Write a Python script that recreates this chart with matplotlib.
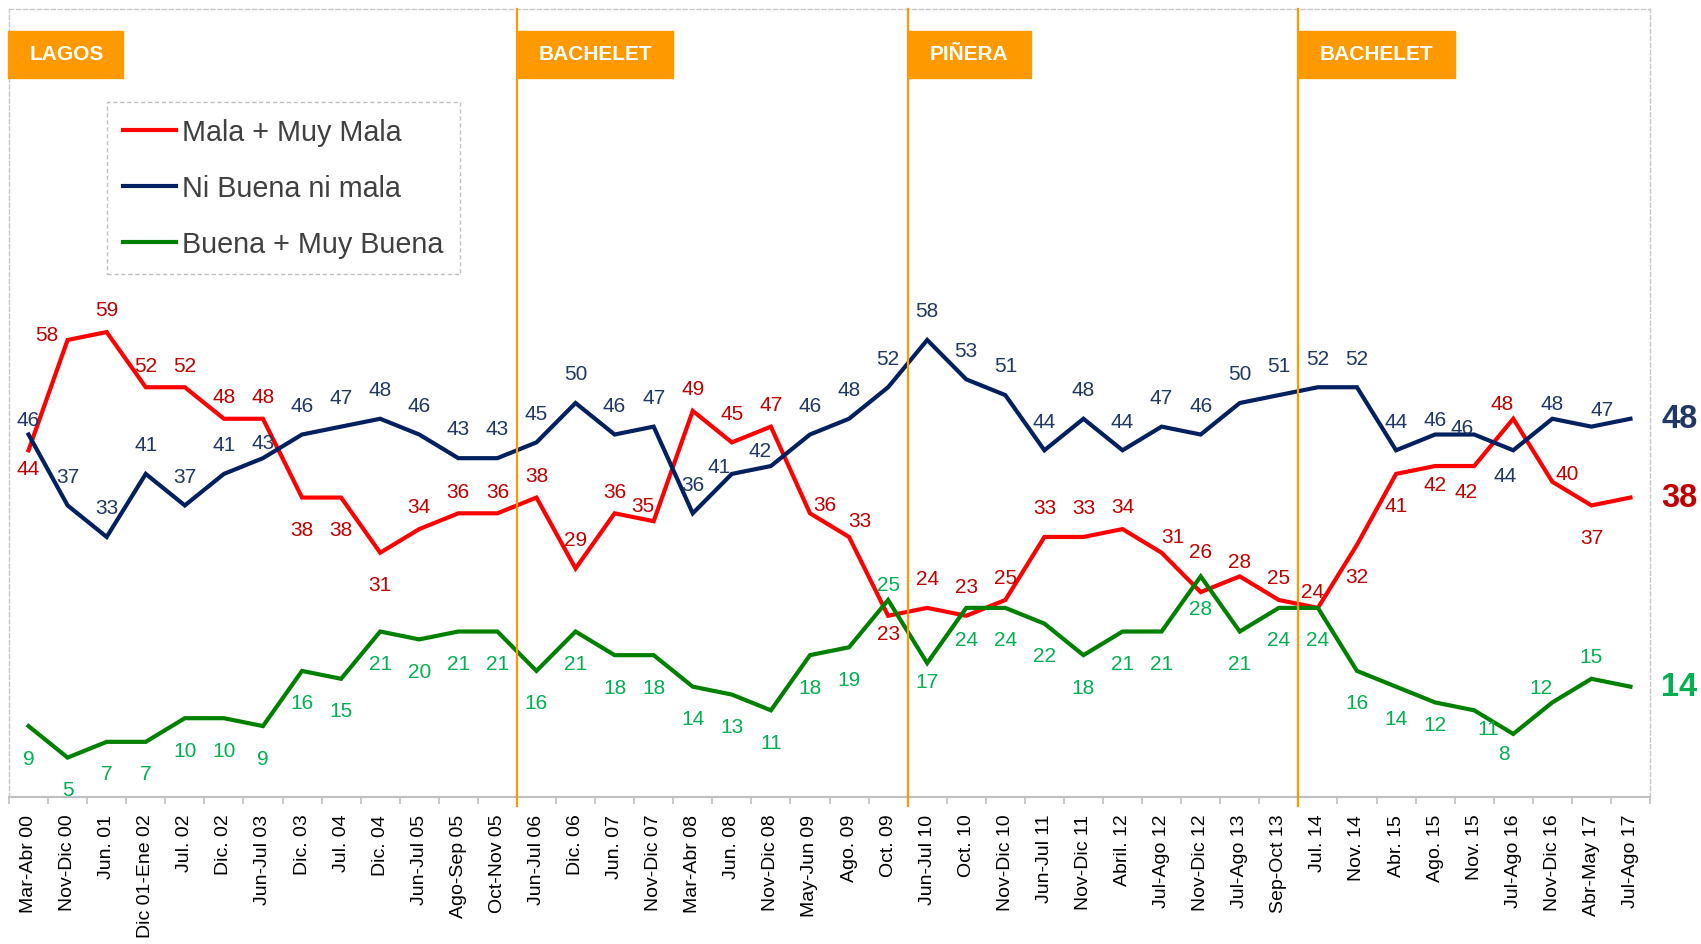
import matplotlib
matplotlib.use("Agg")
import matplotlib.pyplot as plt
from matplotlib.lines import Line2D
from matplotlib.patches import Rectangle
from matplotlib.transforms import blended_transform_factory

plt.rcParams['font.family'] = ['Liberation Sans', 'DejaVu Sans']

periods = ['Mar-Abr 00', 'Nov-Dic 00', 'Jun. 01', 'Dic 01-Ene 02', 'Jul. 02', 'Dic. 02',
           'Jun-Jul 03', 'Dic. 03', 'Jul. 04', 'Dic. 04', 'Jun-Jul 05', 'Ago-Sep 05',
           'Oct-Nov 05', 'Jun-Jul 06', 'Dic. 06', 'Jun. 07', 'Nov-Dic 07', 'Mar-Abr 08',
           'Jun. 08', 'Nov-Dic 08', 'May-Jun 09', 'Ago. 09', 'Oct. 09', 'Jun-Jul 10',
           'Oct. 10', 'Nov-Dic 10', 'Jun-Jul 11', 'Nov-Dic 11', 'Abril. 12', 'Jul-Ago 12',
           'Nov-Dic 12', 'Jul-Ago 13', 'Sep-Oct 13', 'Jul. 14', 'Nov. 14', 'Abr. 15',
           'Ago. 15', 'Nov. 15', 'Jul-Ago 16', 'Nov-Dic 16', 'Abr-May 17', 'Jul-Ago 17']

mala = [44, 58, 59, 52, 52, 48, 48, 38, 38, 31, 34, 36, 36, 38, 29, 36, 35, 49, 45, 47, 36,
        33, 23, 24, 23, 25, 33, 33, 34, 31, 26, 28, 25, 24, 32, 41, 42, 42, 48, 40, 37, 38]
ni = [46, 37, 33, 41, 37, 41, 43, 46, 47, 48, 46, 43, 43, 45, 50, 46, 47, 36, 41, 42, 46,
      48, 52, 58, 53, 51, 44, 48, 44, 47, 46, 50, 51, 52, 52, 44, 46, 46, 44, 48, 47, 48]
buena = [9, 5, 7, 7, 10, 10, 9, 16, 15, 21, 20, 21, 21, 16, 21, 18, 18, 14, 13, 11, 18,
         19, 25, 17, 24, 24, 22, 18, 21, 21, 28, 21, 24, 24, 16, 14, 12, 11, 8, 12, 15, 14]

series_names = ['Mala + Muy Mala', 'Ni Buena ni mala', 'Buena + Muy Buena']

governments = ['LAGOS', 'BACHELET', 'PIÑERA', 'BACHELET']
gov_start = [0, 13, 23, 33]

# where each data label sits relative to its point (None = no small label)
pos_mala = ['B', 'l', 'a', 'a', 'a', 'a', 'a', 'b', 'b', 'b', 'a', 'a', 'a', 'a', 'h', 'a',
            'al', 'a', 'h', 'a', 'r', 'ar', 'B', 'h', 'h', 'a', 'h', 'h', 'a', 'ar', 'H',
            'A', 'a', 'ul', 'b', 'b', 'B', 'bl', 'al', 'r', 'b', None]
pos_ni = (['A'] + ['h'] * 5 + ['A'] + ['h'] * 11 + ['L', 'al'] + ['h'] * 16
          + ['A', 'L', 'bl', 'A', 'ar', None])
pos_buena = (['b'] * 22 + ['A', 'B'] + ['b'] * 12
             + ['m', 'br', 'dl', 'al', 'a', None])

OFFSETS = {'A': (0, 11), 'a': (0, 16), 'h': (0, 21), 'H': (0, 29),
           'b': (0, -23), 'm': (0, -16), 'B': (0, -13),
           'l': (-15, 4), 'L': (-9, 5), 'r': (11, 6),
           'al': (-8, 11), 'ul': (-4, 12), 'ar': (8, 12),
           'bl': (-6, -18), 'br': (10, -13), 'dl': (-7, -14)}

RED, NAVY, GREEN = '#FF0000', '#002060', '#008000'
RED_T, NAVY_T, GREEN_T = '#C00000', '#1F3864', '#00B050'
ORANGE = '#FF9900'

fig = plt.figure(figsize=(17.01, 9.45), dpi=100)
ax = fig.add_axes([9 / 1701, 147 / 945, 1641 / 1701, 788 / 945])

x = list(range(len(periods)))
ax.plot(x, mala, color=RED, lw=3, zorder=3, solid_joinstyle='miter')
ax.plot(x, ni, color=NAVY, lw=3, zorder=3, solid_joinstyle='miter')
ax.plot(x, buena, color=GREEN, lw=3, zorder=3, solid_joinstyle='miter')

ax.set_xlim(-0.5, len(periods) - 0.5)
ax.set_ylim(0, 100)

for vals, codes, col in [(mala, pos_mala, RED_T), (ni, pos_ni, NAVY_T),
                         (buena, pos_buena, GREEN_T)]:
    for i, (v, c) in enumerate(zip(vals, codes)):
        if c is None:
            continue
        ax.annotate(str(v), (i, v), xytext=OFFSETS[c], textcoords='offset points',
                    ha='center', va='center', fontsize=15, color=col, zorder=5)

# final values, large
for vals, col in [(ni, NAVY_T), (mala, RED_T), (buena, GREEN_T)]:
    ax.annotate(str(vals[-1]), (len(vals) - 1, vals[-1]), xytext=(22, 0),
                textcoords='offset points', ha='left', va='center', fontsize=23.5,
                fontweight='bold', color=col, annotation_clip=False)

# government periods
trans = blended_transform_factory(ax.transData, ax.transAxes)
box_w = [2.96, 4.0, 3.15, 4.0]
for name, s, w in zip(governments, gov_start, box_w):
    x0 = s - 0.5
    if s > 0:
        ax.axvline(x0, ymin=-0.012, ymax=1, color=ORANGE, lw=1.6, zorder=4, clip_on=False)
    ax.add_patch(Rectangle((x0 - (0.03 if s == 0 else 0), 0.913), w, 0.0595,
                           transform=trans, color=ORANGE, zorder=4, clip_on=False))
    ax.text(x0 + w / 2, 0.943, name, transform=trans, ha='center', va='center',
            fontsize=15, fontweight='bold', color='white', zorder=5)

# axes styling
ax.set_xticks(x)
ax.set_xticklabels(periods, rotation=90, fontsize=14, color='black')
ax.set_xticks([i - 0.5 for i in range(len(periods) + 1)], minor=True)
ax.tick_params(axis='x', which='major', length=0, pad=12)
ax.tick_params(axis='x', which='minor', length=5, color='#BFBFBF', width=1.2)
ax.set_yticks([])
for side in ['left', 'top', 'right']:
    ax.spines[side].set_linestyle((0, (3, 2)))
    ax.spines[side].set_color('#C8C8C8')
    ax.spines[side].set_linewidth(1)
ax.spines['bottom'].set_color('#BFBFBF')
ax.spines['bottom'].set_linewidth(1.5)

handles = [Line2D([], [], color=c, lw=3) for c in (RED, NAVY, GREEN)]
leg = ax.legend(handles, series_names, loc='upper left',
                bbox_to_anchor=(107 / 1701, 1 - 103 / 945), bbox_transform=fig.transFigure,
                fontsize=20.7, handlelength=1.85, handletextpad=0.22, labelspacing=0.98,
                borderpad=0.55, borderaxespad=0, fancybox=False, framealpha=1,
                edgecolor='#BFBFBF')
leg.get_frame().set_linestyle((0, (3, 2)))
leg.get_frame().set_linewidth(1)
for t in leg.get_texts():
    t.set_color('#404040')

fig.savefig('out.png', dpi=100)
